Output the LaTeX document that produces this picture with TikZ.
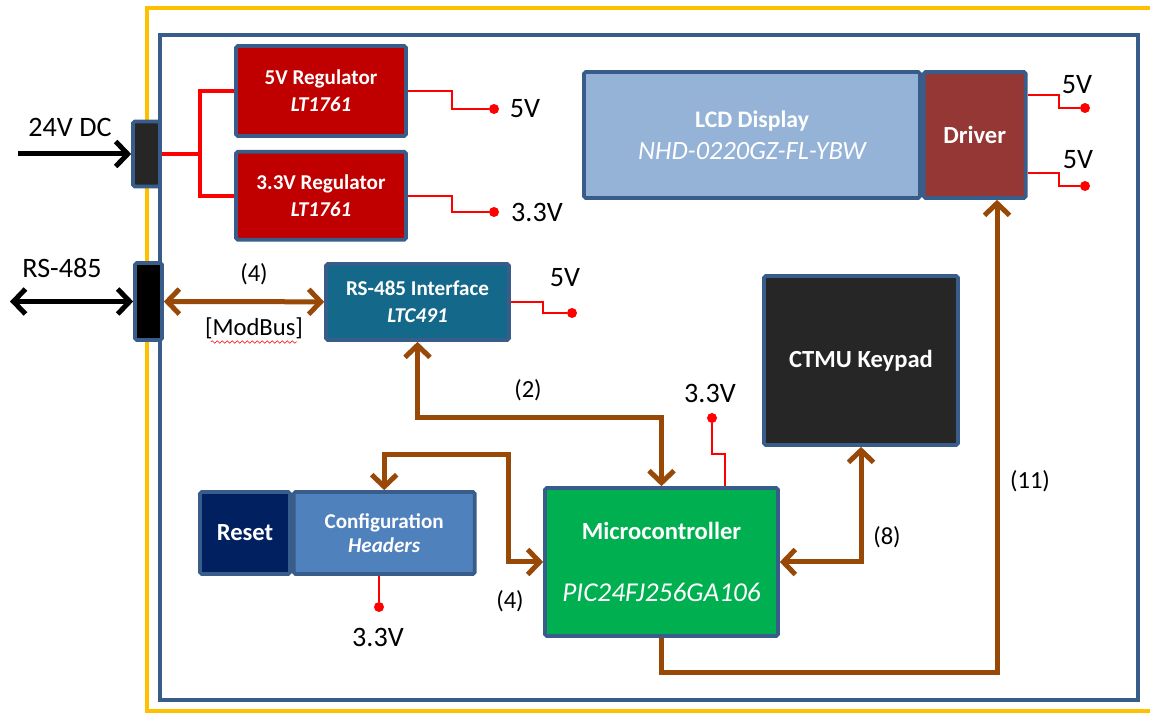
\documentclass[tikz,border=0pt]{standalone}
\usepackage{fontspec}
\setmainfont{Carlito}
\usepackage{xcolor}
\usepackage{tikz}
\usetikzlibrary{arrows.meta,positioning,decorations.pathmorphing}
\definecolor{FBlue}{HTML}{385D8A}
\definecolor{FGold}{HTML}{FFC000}
\definecolor{RegRed}{HTML}{C00000}
\definecolor{IfTeal}{HTML}{14698A}
\definecolor{LcdBlue}{HTML}{95B3D7}
\definecolor{DrvRed}{HTML}{953735}
\definecolor{KeyBlack}{HTML}{262626}
\definecolor{McuGreen}{HTML}{00B050}
\definecolor{RstNavy}{HTML}{002060}
\definecolor{CfgBlue}{HTML}{4F81BD}
\definecolor{BusBrown}{HTML}{984807}
\definecolor{PwrRed}{HTML}{FF0000}
\tikzset{barb/.tip={Straight Barb[length=2.4mm,width=5mm]}}

\begin{document}
\begin{tikzpicture}[x=0.2mm,y=-0.2mm,
  b/.style={draw=FBlue,line width=2.1pt,rounded corners=1pt,text=white,
    align=center,inner sep=0pt,font=\bfseries\fontsize{12}{15.5}\selectfont},
  big/.style={font=\bfseries\fontsize{14}{17}\selectfont},
  bus/.style={draw=BusBrown,line width=1mm},
  ext/.style={draw=black,line width=1mm},
  pwr/.style={draw=PwrRed,line width=0.4mm},
  rail/.style={draw=PwrRed,line width=0.8mm},
  dot/.style={circle,fill=PwrRed,inner sep=0pt,minimum size=2mm},
  lbl/.style={inner sep=0pt,font=\fontsize{16}{19}\selectfont},
  num/.style={inner sep=0pt,font=\fontsize{14}{17}\selectfont}
]
  \useasboundingbox (0,0) rectangle (1150,713);
  % frames
  \draw[FGold,line width=2pt] (1150,8) -- (147,8) -- (147,711) -- (1150,711);
  \draw[FBlue,line width=2pt] (160,35) rectangle (1138,700);

  % connectors on the edge
  \node[b,fill=KeyBlack,minimum width=5.4mm,minimum height=13mm] (pin24) at (146.5,154) {};
  \node[b,fill=black,minimum width=5.4mm,minimum height=15.4mm] (pin485) at (148.5,301.5) {};
  \coordinate (in24) at (18,154);
  \coordinate (in485) at (10,301.5);
  \node[lbl] (t24) at (70,127) {24V DC};
  \node[lbl] (t485) at (62,268) {RS-485};

  % blocks
  \node[b,fill=RegRed,minimum width=34mm,minimum height=18mm] (reg5) at (321,91)
    {5V Regulator\\\textit{LT1761}};
  \node[b,fill=RegRed,minimum width=34mm,minimum height=17.6mm,below=2.4mm of reg5] (reg33)
    {3.3V Regulator\\\textit{LT1761}};
  \node[b,fill=IfTeal,minimum width=36.6mm,minimum height=15.2mm] (rs485) at (417.5,302)
    {RS-485 Interface\\\textit{LTC491}};
  \node[b,fill=LcdBlue,minimum width=67.2mm,minimum height=25.2mm,
    font=\bfseries\fontsize{13.5}{18}\selectfont] (lcd) at (752,135)
    {LCD Display\\{\mdseries\itshape\fontsize{15}{18}\selectfont NHD-0220GZ-FL-YBW}};
  \node[b,big,fill=DrvRed,minimum width=20.4mm,minimum height=25.2mm,right=0pt of lcd] (drv) {Driver};
  \node[b,big,fill=KeyBlack,minimum width=38.8mm,minimum height=33.8mm] (keypad) at (861,360.5) {CTMU Keypad};
  \node[b,big,fill=McuGreen,minimum width=46.6mm,minimum height=29.6mm] (mcu) at (661.5,562)
    {Microcontroller\\[6.4mm]{\mdseries\itshape\fontsize{15.5}{18}\selectfont PIC24FJ256GA106}};
  \node[b,big,fill=RstNavy,minimum width=18mm,minimum height=16.4mm] (reset) at (245,533) {Reset};
  \node[b,fill=CfgBlue,minimum width=36.2mm,minimum height=16.4mm,
    font=\bfseries\fontsize{12}{14}\selectfont,right=0pt of reset] (config)
    {Configuration\\\textit{Headers}};

  % external lines
  \draw[ext,-barb] (in24) -- (pin24);
  \draw[ext,barb-barb] (in485) -- (pin485);

  % power
  \coordinate (sp) at (200,154);
  \draw[rail] (pin24.east) -- (sp);
  \draw[rail] (reg5.west) -| (sp) |- (reg33.west);
  \node[dot] (v5a) at (494,109) {};
  \node[dot] (v33a) at (494,212) {};
  \node[dot] (v5b) at (572,313) {};
  \node[dot] (v5c) at (1085,108) {};
  \node[dot] (v5d) at (1085,186) {};
  \node[dot] (v33b) at (379,607) {};
  \node[dot] (v33c) at (712,418) {};
  \draw[pwr] (reg5.east) -- ++(44,0) |- (v5a);
  \draw[pwr] (reg33.east) -- ++(44,0) |- (v33a);
  \draw[pwr] (rs485.east) -- ++(32,0) |- (v5b);
  \draw[pwr] ([yshift=8mm]drv.east) -- ++(31,0) |- (v5c);
  \draw[pwr] ([yshift=-7.6mm]drv.east) -- ++(31,0) |- (v5d);
  \draw[pwr] (config.south -| v33b) -- (v33b);
  \draw[pwr] ([xshift=12.7mm]mcu.north) -- ++(0,-32) -| (v33c);
  \node[lbl] (l5a) at (525,109) {5V};
  \node[lbl] (l33a) at (537,212) {3.3V};
  \node[lbl] (l5b) at (565,278) {5V};
  \node[lbl] (l5c) at (1077,85) {5V};
  \node[lbl] (l5d) at (1078,160) {5V};
  \node[lbl] (l33b) at (378,637) {3.3V};
  \node[lbl] (l33c) at (710,393) {3.3V};

  % data buses
  \coordinate (c2) at (540,418);
  \coordinate (c4) at (508,455);
  \coordinate (c11) at (997,673);
  \draw[bus,barb-barb] (pin485) -- (rs485);
  \draw[bus,barb-barb] (rs485.south) |- (c2) -| (mcu.north);
  \draw[bus,barb-barb] (config.north) |- (c4) |- (mcu.west);
  \draw[bus,barb-barb] (mcu.east) -| (keypad.south);
  \draw[bus,-barb] (mcu.south) |- (c11) -- (c11 |- drv.south);
  \node[num] (n4a) at (254,274) {(4)};
  \node[num] (modbus) at (254,328) {[ModBus]};
  \draw[PwrRed,line width=0.3pt,decorate,decoration={snake,amplitude=0.25mm,segment length=1mm}]
    ([xshift=1.2mm,yshift=-0.6mm]modbus.south west) -- ([xshift=-1.2mm,yshift=-0.6mm]modbus.south east);
  \node[num] (n2) at (528,390) {(2)};
  \node[num] (n4b) at (510,601) {(4)};
  \node[num] (n8) at (887,537) {(8)};
  \node[num] (n11) at (1030,481) {(11)};
\end{tikzpicture}
\end{document}
